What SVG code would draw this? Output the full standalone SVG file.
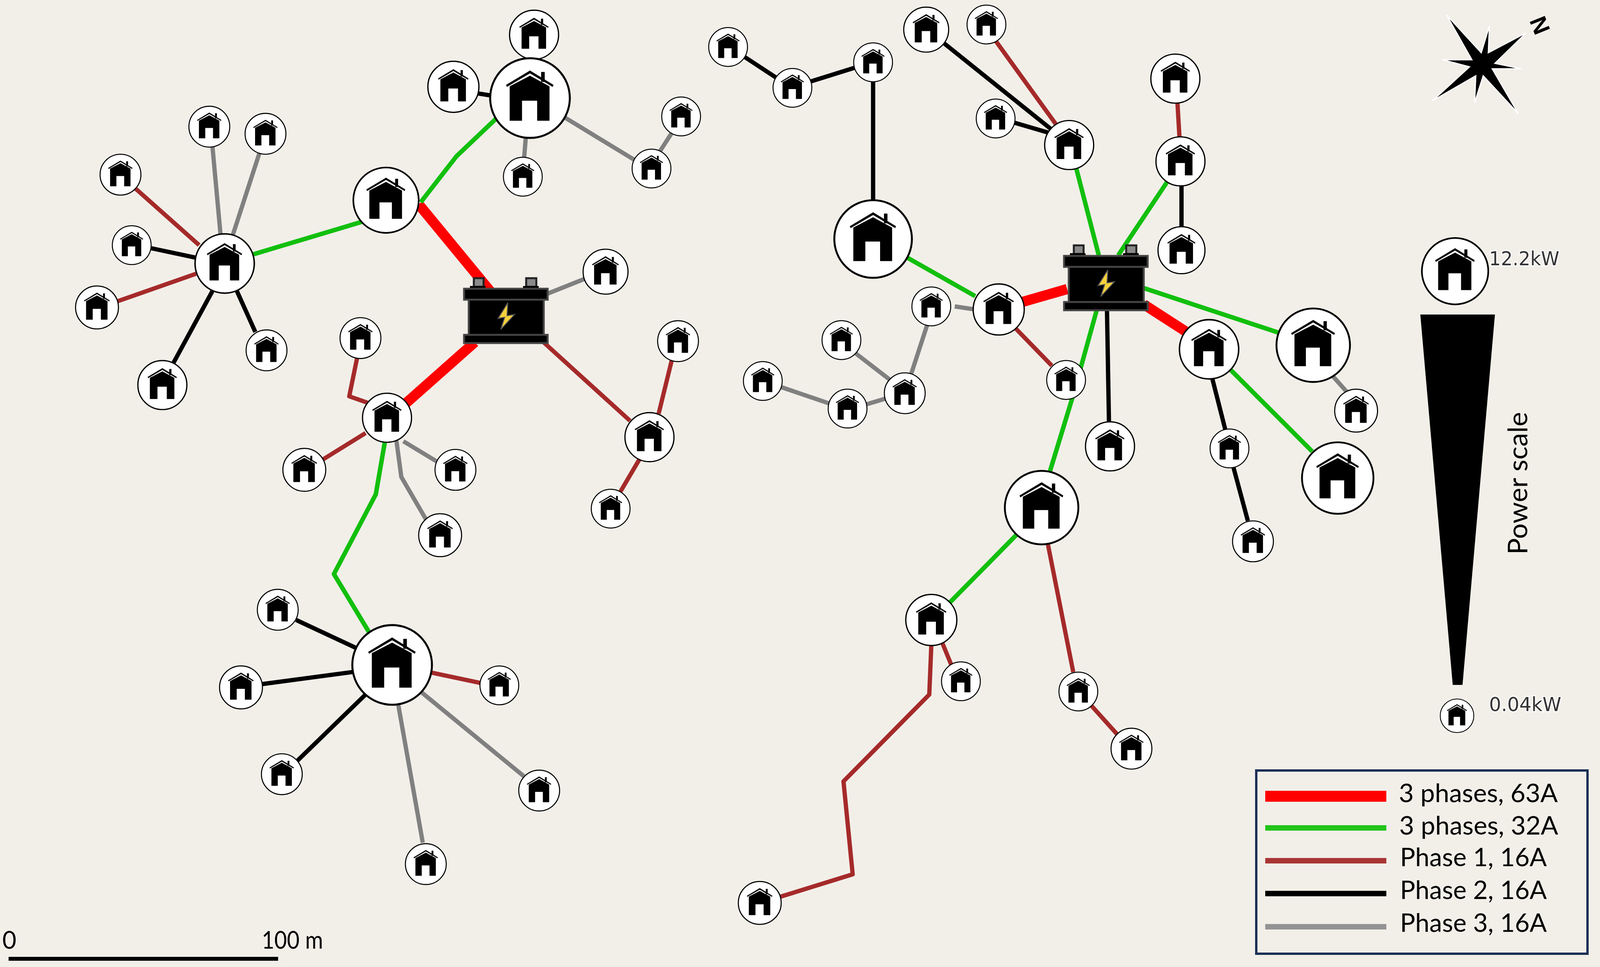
<svg xmlns="http://www.w3.org/2000/svg" xmlns:xlink="http://www.w3.org/1999/xlink" width="4099" height="2475" viewBox="0 0 4099 2475">
<style>
.c{fill:none;stroke-linejoin:round;stroke-linecap:butt}
.r{stroke:#ff0000;stroke-width:10}
.g{stroke:#12bf0e;stroke-width:4.4}
.b{stroke:#a52a2a;stroke-width:4.2}
.k{stroke:#000;stroke-width:4.2}
.y{stroke:#808080;stroke-width:4.2}
.lg{font-family:Lato,"Open Sans",sans-serif;font-size:66px;fill:#000}
.pw{font-family:"DejaVu Sans",sans-serif;font-size:50px;fill:#333;stroke:#fff;stroke-width:6px;stroke-opacity:.8;paint-order:stroke}
</style>
<defs>
<g id="h">
<circle r="1" fill="#fff" stroke="#000" stroke-width=".05"/>
<path fill="#000" d="M-.6-.33 0-.69.59-.33.57-.28 0-.62-.58-.28Z"/>
<rect x=".28" y="-.655" width=".09" height=".25" fill="#000"/>
<path fill="#000" d="M-.51.57V-.295L0-.56.49-.295V.57H.18V.066H-.2V.57Z"/>
</g>
<g id="bat">
<rect x="-82" y="-83" width="25" height="22" fill="#8a8a8a" stroke="#222" stroke-width="5"/>
<rect x="52" y="-83" width="26" height="22" fill="#8a8a8a" stroke="#222" stroke-width="5"/>
<rect x="-92" y="-63" width="40" height="8" fill="#000"/>
<rect x="44" y="-63" width="40" height="8" fill="#000"/>
<rect x="-95" y="-30" width="192" height="94" fill="#000" stroke="#444" stroke-width="5"/>
<rect x="-107" y="-56" width="214" height="28" fill="#000" stroke="#444" stroke-width="5"/>
<rect x="-107" y="62" width="214" height="21" fill="#000" stroke="#444" stroke-width="5"/>
<path d="M5-20-20 20-3 17-13 48 22 10 3 13Z" fill="#f6d23a" stroke="#555" stroke-width="2.5"/>
</g>
</defs>
<rect id="background" width="4099" height="2475" fill="#f2efe9"/>
<g id="connectors" transform="scale(2.6142)">
<path class="c r" d="M480 285 410 200"/>
<path class="c r" d="M465 335 395 397"/>
<path class="c y" d="M530 290 575 272"/>
<path class="c b" d="M530 333 617 412"/>
<path class="c b" d="M645 405 658 352"/>
<path class="c b" d="M626 450 606 484"/>
<path class="c g" d="M355 217 248 249"/>
<path class="c g" d="M412 198 447 153 487 115"/>
<path class="c k" d="M465 91 490 95"/>
<path class="c y" d="M515 133 513 158"/>
<path class="c y" d="M553 115 622 157"/>
<path class="c y" d="M645 150 658 130"/>
<path class="c y" d="M208 143 216 230"/>
<path class="c y" d="M254 150 228 230"/>
<path class="c b" d="M132 184 195 240"/>
<path class="c k" d="M148 243 195 253"/>
<path class="c b" d="M115 295 192 268"/>
<path class="c k" d="M232 285 250 325"/>
<path class="c k" d="M170 355 208 285"/>
<path class="c b" d="M350 349 342 388 362 395"/>
<path class="c b" d="M316 450 358 424"/>
<path class="c y" d="M395 432 428 452"/>
<path class="c y" d="M388 430 393 467 418 510"/>
<path class="c g" d="M377 432 368 484 327 562 362 620"/>
<path class="c k" d="M290 607 350 635"/>
<path class="c k" d="M255 670 345 658"/>
<path class="c k" d="M291 745 358 680"/>
<path class="c b" d="M420 658 472 669"/>
<path class="c y" d="M413 678 513 760"/>
<path class="c y" d="M390 690 414 825"/>
<path class="c k" d="M728 55 760 76"/>
<path class="c k" d="M793 80 838 66"/>
<path class="c k" d="M855 80 855 196"/>
<path class="c k" d="M924 42 1030 127"/>
<path class="c b" d="M975 40 1035 123"/>
<path class="c k" d="M993 120 1027 130"/>
<path class="c g" d="M1054 165 1076 250"/>
<path class="c g" d="M1143 178 1095 250"/>
<path class="c b" d="M1153 100 1155 134"/>
<path class="c k" d="M1157 182 1157 222"/>
<path class="c g" d="M888 252 955 290"/>
<path class="c r" d="M1000 296 1045 283"/>
<path class="c y" d="M935 300 955 303"/>
<path class="c b" d="M995 322 1030 358"/>
<path class="c y" d="M908 318 892 367"/>
<path class="c y" d="M838 346 873 373"/>
<path class="c y" d="M868 390 848 396"/>
<path class="c y" d="M812 395 765 379"/>
<path class="c k" d="M1084 302 1086 415"/>
<path class="c g" d="M1075 300 1050 390 1028 462"/>
<path class="c g" d="M997 522 930 590"/>
<path class="c b" d="M923 630 932 652"/>
<path class="c b" d="M912 632 910 680 826 765 835 856 764 878"/>
<path class="c b" d="M1026 532 1051 658"/>
<path class="c b" d="M1068 690 1095 720"/>
<path class="c r" d="M1120 298 1165 327"/>
<path class="c g" d="M1120 282 1253 326"/>
<path class="c y" d="M1305 368 1320 385"/>
<path class="c k" d="M1187 370 1200 421"/>
<path class="c k" d="M1208 458 1222 510"/>
<path class="c g" d="M1205 362 1285 442"/>
</g>
<g id="nodes" transform="scale(2.6142)">
<g id="A1" transform="translate(523 34) scale(24)"><use href="#h"/></g>
<g id="A2" transform="translate(444 85) scale(25)"><use href="#h"/></g>
<g id="A3" transform="translate(519 96) scale(39)"><use href="#h"/></g>
<g id="A4" transform="translate(512 173) scale(19)"><use href="#h"/></g>
<g id="A5" transform="translate(667 114) scale(19)"><use href="#h"/></g>
<g id="A6" transform="translate(638 165) scale(19)"><use href="#h"/></g>
<g id="B" transform="translate(378 196) scale(32)"><use href="#h"/></g>
<g id="C" transform="translate(220 258) scale(29)"><use href="#h"/></g>
<g id="D1" transform="translate(205 124) scale(20)"><use href="#h"/></g>
<g id="D2" transform="translate(260 131) scale(20)"><use href="#h"/></g>
<g id="D3" transform="translate(118 171) scale(20)"><use href="#h"/></g>
<g id="D4" transform="translate(129 240) scale(19)"><use href="#h"/></g>
<g id="D5" transform="translate(95 301) scale(21)"><use href="#h"/></g>
<g id="D6" transform="translate(261 343) scale(20)"><use href="#h"/></g>
<g id="D7" transform="translate(159 377) scale(24)"><use href="#h"/></g>
<g id="E" transform="translate(593 266) scale(22)"><use href="#h"/></g>
<g id="F" transform="translate(353 331) scale(20)"><use href="#h"/></g>
<g id="G" transform="translate(379 409) scale(24)"><use href="#h"/></g>
<g id="H" transform="translate(298 460) scale(21)"><use href="#h"/></g>
<g id="I" transform="translate(446 460) scale(20)"><use href="#h"/></g>
<g id="J" transform="translate(431 524) scale(21)"><use href="#h"/></g>
<g id="K" transform="translate(636 428) scale(24)"><use href="#h"/></g>
<g id="L" transform="translate(664 334) scale(20)"><use href="#h"/></g>
<g id="M" transform="translate(598 498) scale(19)"><use href="#h"/></g>
<g id="N" transform="translate(384 651) scale(39)"><use href="#h"/></g>
<g id="O1" transform="translate(272 597) scale(20)"><use href="#h"/></g>
<g id="O2" transform="translate(236 673) scale(21)"><use href="#h"/></g>
<g id="O3" transform="translate(276 758) scale(20)"><use href="#h"/></g>
<g id="O4" transform="translate(489 671) scale(19)"><use href="#h"/></g>
<g id="O5" transform="translate(528 774) scale(20)"><use href="#h"/></g>
<g id="O6" transform="translate(417 846) scale(20)"><use href="#h"/></g>
<g id="P1" transform="translate(713 46) scale(19)"><use href="#h"/></g>
<g id="P2" transform="translate(776 86) scale(19)"><use href="#h"/></g>
<g id="P3" transform="translate(855 61) scale(19)"><use href="#h"/></g>
<g id="Q" transform="translate(855 234) scale(38)"><use href="#h"/></g>
<g id="R1" transform="translate(907 29) scale(22)"><use href="#h"/></g>
<g id="R2" transform="translate(966 24) scale(19)"><use href="#h"/></g>
<g id="R3" transform="translate(975 116) scale(19)"><use href="#h"/></g>
<g id="R4" transform="translate(1047 142) scale(24)"><use href="#h"/></g>
<g id="S1" transform="translate(1151 77) scale(24)"><use href="#h"/></g>
<g id="S2" transform="translate(1156 158) scale(24)"><use href="#h"/></g>
<g id="S3" transform="translate(1157 245) scale(23)"><use href="#h"/></g>
<g id="T" transform="translate(978 303) scale(25)"><use href="#h"/></g>
<g id="U1" transform="translate(912 300) scale(19)"><use href="#h"/></g>
<g id="U2" transform="translate(824 333) scale(19)"><use href="#h"/></g>
<g id="U3" transform="translate(886 385) scale(20)"><use href="#h"/></g>
<g id="U4" transform="translate(747 373) scale(19)"><use href="#h"/></g>
<g id="U5" transform="translate(830 400) scale(19)"><use href="#h"/></g>
<g id="V" transform="translate(1044 372) scale(19)"><use href="#h"/></g>
<g id="W" transform="translate(1087 437) scale(24)"><use href="#h"/></g>
<g id="X" transform="translate(1184 342) scale(29)"><use href="#h"/></g>
<g id="Y" transform="translate(1286 338) scale(36)"><use href="#h"/></g>
<g id="Y2" transform="translate(1328 402) scale(21)"><use href="#h"/></g>
<g id="Z" transform="translate(1204 439) scale(19)"><use href="#h"/></g>
<g id="Z2" transform="translate(1227 530) scale(20)"><use href="#h"/></g>
<g id="AA" transform="translate(1310 468) scale(35)"><use href="#h"/></g>
<g id="BB" transform="translate(1020 497) scale(36)"><use href="#h"/></g>
<g id="CC" transform="translate(912 607) scale(25)"><use href="#h"/></g>
<g id="CC2" transform="translate(941 667) scale(19)"><use href="#h"/></g>
<g id="DD" transform="translate(1056 677) scale(19)"><use href="#h"/></g>
<g id="DD2" transform="translate(1108 733) scale(20)"><use href="#h"/></g>
<g id="EE" transform="translate(744 884) scale(21)"><use href="#h"/></g>
</g>
<g id="battery1" transform="translate(1295 795)"><use href="#bat"/></g>
<g id="battery2" transform="translate(2831 711)"><use href="#bat"/></g>
<g id="compass">
<path fill="#000" stroke="#fff" stroke-width="3" d="M3703 38 3792 135 3813 66 3810 135 3907 84 3827 162 3895 176 3820 176 3887 291 3797 194 3775 263 3778 194 3667 258 3762 171 3693 153 3768 153Z"/>
<text x="0" y="0" transform="translate(3942 65) rotate(68)" text-anchor="middle" dominant-baseline="central" font-family="'Liberation Sans',sans-serif" font-weight="bold" font-size="60" fill="#000">N</text>
</g>
<g id="power-scale">
<g transform="translate(3725 694) scale(85)"><use href="#h"/></g>
<text class="pw" x="3812" y="679" textLength="180" lengthAdjust="spacingAndGlyphs">12.2kW</text>
<path fill="#000" d="M3636 805H3827L3744 1753H3719Z"/>
<text transform="translate(3910 1237) rotate(-90)" text-anchor="middle" font-family="Lato,sans-serif" font-size="70" fill="#000">Power scale</text>
<g transform="translate(3730 1832) scale(43)"><use href="#h"/></g>
<text class="pw" x="3812" y="1820" textLength="185" lengthAdjust="spacingAndGlyphs">0.04kW</text>
</g>
<g id="legend">
<rect x="3216" y="1972" width="848" height="469" fill="none" stroke="#1b2f55" stroke-width="6"/>
<rect x="3239" y="2024" width="310" height="28" fill="#ff0000"/>
<rect x="3239" y="2112" width="310" height="14" fill="#22c41a"/>
<rect x="3239" y="2196" width="310" height="14" fill="#a93535"/>
<rect x="3239" y="2280" width="310" height="14" fill="#000"/>
<rect x="3239" y="2365" width="310" height="14" fill="#939393"/>
<text class="lg" x="3581" y="2053" textLength="407" lengthAdjust="spacingAndGlyphs">3 phases, 63A</text>
<text class="lg" x="3582" y="2136" textLength="407" lengthAdjust="spacingAndGlyphs">3 phases, 32A</text>
<text class="lg" x="3584" y="2217" textLength="376" lengthAdjust="spacingAndGlyphs">Phase 1, 16A</text>
<text class="lg" x="3584" y="2301" textLength="376" lengthAdjust="spacingAndGlyphs">Phase 2, 16A</text>
<text class="lg" x="3584" y="2385" textLength="376" lengthAdjust="spacingAndGlyphs">Phase 3, 16A</text>
</g>
<g id="scale-bar">
<rect x="22" y="2449" width="690" height="10" fill="#000"/>
<text x="6" y="2428" font-family="Lato,sans-serif" font-size="62" fill="#000">0</text>
<text x="670" y="2428" font-family="Lato,sans-serif" font-size="62" fill="#000" textLength="157" lengthAdjust="spacingAndGlyphs">100 m</text>
</g>
</svg>
